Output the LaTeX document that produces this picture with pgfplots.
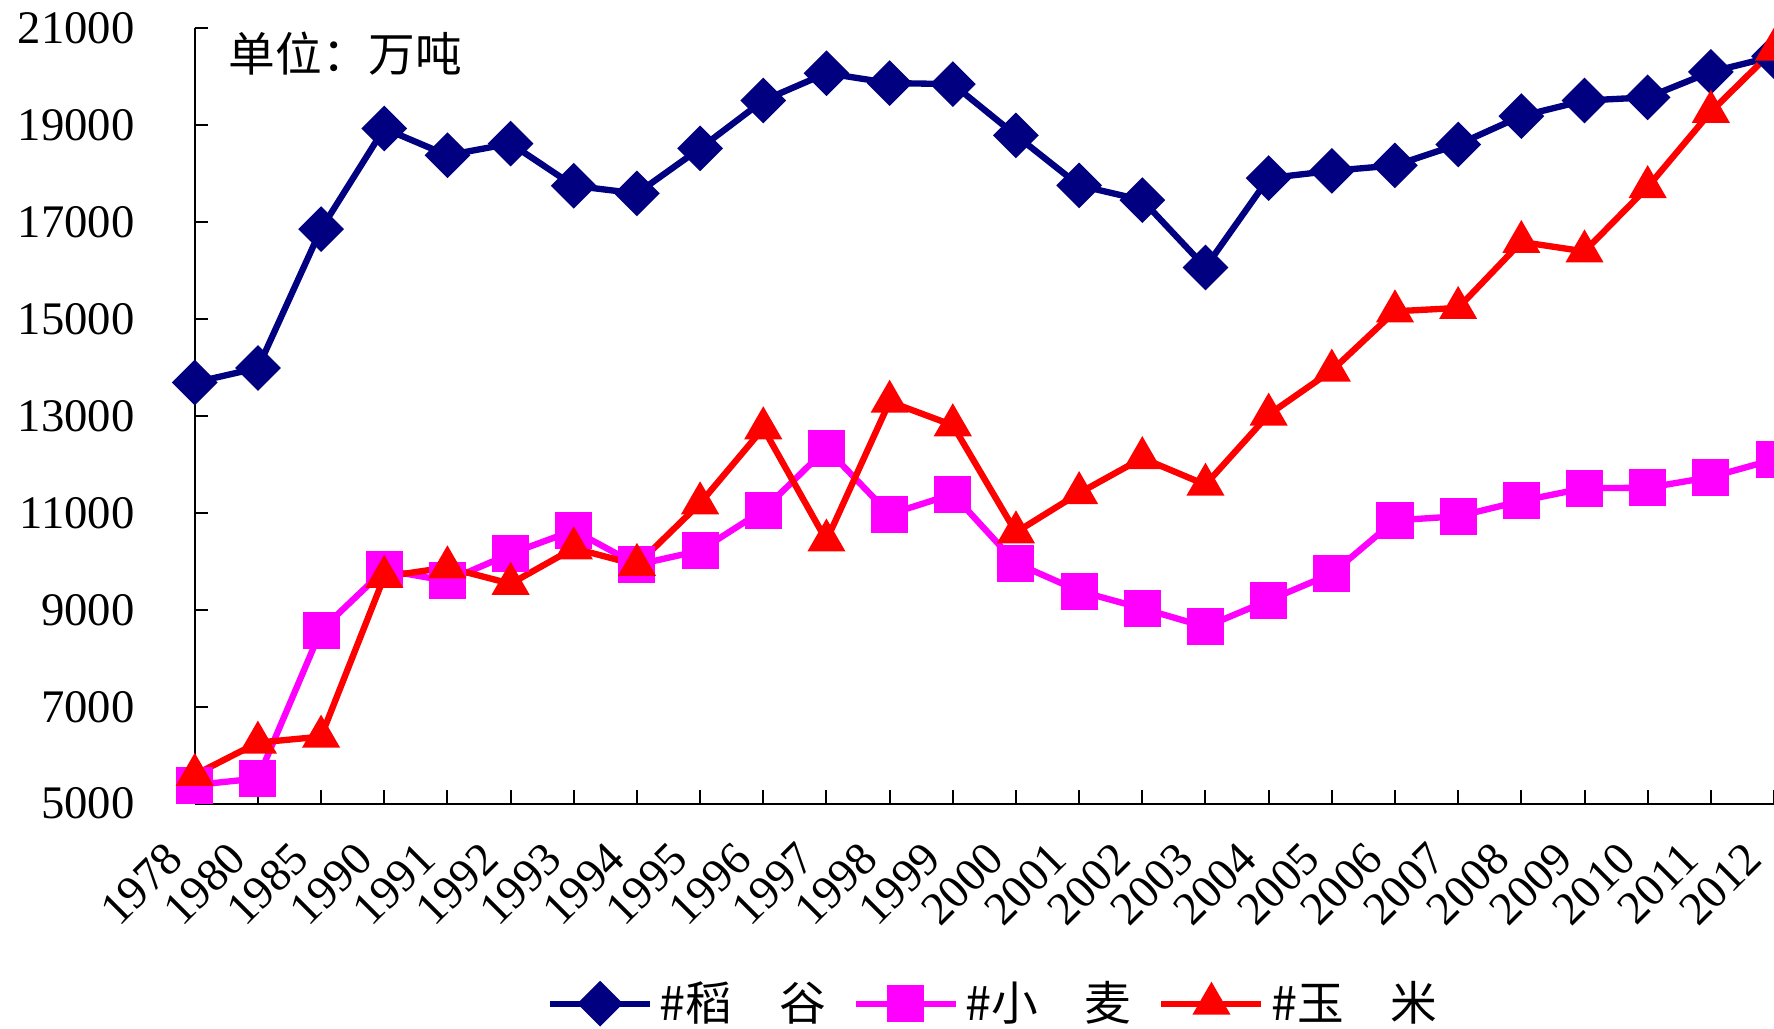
\documentclass[border=0pt]{standalone}
\usepackage{fontspec}
\setmainfont{Liberation Serif}
\newfontfamily\cjk{Noto Sans CJK SC}
\usepackage{pgfplots}
\pgfplotsset{compat=1.18}
\definecolor{rice}{RGB}{0,0,128}
\definecolor{wheat}{RGB}{255,0,255}
\definecolor{corn}{RGB}{255,0,0}
\begin{document}
\begin{tikzpicture}
\begin{axis}[
  scale only axis, width=473.6pt, height=232.5pt,
  xmin=0, xmax=25, ymin=5000, ymax=21000,
  axis x line=bottom, axis y line=left,
  axis line style={-, black, line width=0.6pt},
  xtick={0,...,25},
  xticklabels={1978,1980,1985,1990,1991,1992,1993,1994,1995,1996,1997,1998,1999,2000,2001,2002,2003,2004,2005,2006,2007,2008,2009,2010,2011,2012},
  ytick={5000,7000,...,21000},
  scaled y ticks=false,
  tick align=inside, major tick length=4pt,
  tick style={black, line width=0.6pt},
  /pgf/number format/assume math mode=true,
  /pgf/number format/1000 sep={},
  tick label style={font=\fontsize{14}{16}\selectfont},
  yticklabel style={xshift=-14.5pt},
  xticklabel style={xshift=-6pt, yshift=-14pt, rotate=45, anchor=east, inner sep=0pt},
  clip=false,
  legend columns=3,
  legend style={draw=none, fill=none, at={(0.507,-0.258)}, anchor=center,
    font=\cjk\fontsize{14}{16}\selectfont,
    /tikz/every even column/.append style={column sep=6pt}},
  legend image code/.code={\draw[mark repeat=2,mark phase=2,#1] plot coordinates {(0pt,0pt) (15pt,0pt) (30pt,0pt)};},
]
\addplot[rice, line width=1.9pt, mark=square*, mark size=3.9pt, mark options={rotate=45, solid}] coordinates {
(0,13693) (1,13991) (2,16857) (3,18933) (4,18381) (5,18622) (6,17751) (7,17593) (8,18523) (9,19510)
(10,20074) (11,19871) (12,19849) (13,18791) (14,17758) (15,17454) (16,16066) (17,17909) (18,18059) (19,18172)
(20,18603) (21,19190) (22,19510) (23,19576) (24,20100) (25,20424)};
\addlegendentry{\#稻　谷}
\addplot[wheat, line width=1.9pt, mark=square*, mark size=4.6pt, mark options={solid}] coordinates {
(0,5384) (1,5521) (2,8581) (3,9823) (4,9595) (5,10159) (6,10639) (7,9930) (8,10221) (9,11057)
(10,12329) (11,10973) (12,11388) (13,9964) (14,9387) (15,9029) (16,8649) (17,9195) (18,9745) (19,10847)
(20,10930) (21,11246) (22,11512) (23,11518) (24,11740) (25,12102)};
\addlegendentry{\#小　麦}
\addplot[corn, line width=1.9pt, mark=triangle*, mark size=4.7pt, mark options={solid}] coordinates {
(0,5595) (1,6260) (2,6383) (3,9682) (4,9877) (5,9538) (6,10270) (7,9928) (8,11199) (9,12747)
(10,10431) (11,13295) (12,12809) (13,10600) (14,11409) (15,12131) (16,11583) (17,13029) (18,13937) (19,15160)
(20,15230) (21,16591) (22,16397) (23,17725) (24,19278) (25,20561)};
\addlegendentry{\#玉　米}
\node[anchor=north west, inner sep=0pt, font=\cjk\fontsize{14}{16}\selectfont] at ([xshift=10pt,yshift=-1pt]rel axis cs:0,1) {单位：万吨};
\coordinate (bl) at (rel axis cs:0,0);
\coordinate (tr) at (rel axis cs:1,1);
\end{axis}
\pgfresetboundingbox
\path ([xshift=-58.4pt,yshift=-67.4pt]bl) rectangle ([yshift=8.5pt]tr);
\end{tikzpicture}
\end{document}
